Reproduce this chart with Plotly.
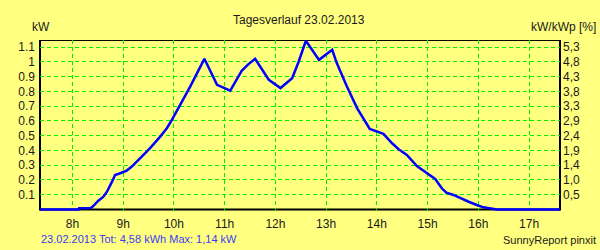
import plotly.graph_objects as go

# ---- data ----
hours = [7.36, 8.12, 8.13, 8.36, 8.41, 8.51, 8.61, 8.68, 8.78, 8.84, 8.94, 9.07, 9.17,
         9.34, 9.53, 9.73, 9.86, 9.96, 10.09, 10.22, 10.32, 10.60, 10.85, 11.11, 11.34,
         11.47, 11.60, 11.87, 12.10, 12.33, 12.46, 12.60, 12.86, 13.12, 13.21, 13.41,
         13.61, 13.86, 14.00, 14.13, 14.30, 14.43, 14.59, 14.79, 14.99, 15.15, 15.28,
         15.37, 15.51, 15.65, 15.81, 15.97, 16.10, 16.37, 17.61]
power_kw = [0.0, 0.0, 0.008, 0.01, 0.023, 0.059, 0.086, 0.12, 0.188, 0.233, 0.245, 0.263,
            0.29, 0.347, 0.415, 0.493, 0.55, 0.607, 0.686, 0.765, 0.832, 1.02, 0.844,
            0.805, 0.941, 0.984, 1.02, 0.878, 0.822, 0.889, 1.002, 1.142, 1.013, 1.081,
            0.991, 0.832, 0.686, 0.545, 0.527, 0.512, 0.448, 0.408, 0.369, 0.294, 0.245,
            0.206, 0.143, 0.113, 0.098, 0.075, 0.052, 0.03, 0.014, 0.0, 0.0]

x_tick_vals = [8, 9, 10, 11, 12, 13, 14, 15, 16, 17]
x_tick_text = ["8h", "9h", "10h", "11h", "12h", "13h", "14h", "15h", "16h", "17h"]
y_tick_vals = [0.1, 0.2, 0.3, 0.4, 0.5, 0.6, 0.7, 0.8, 0.9, 1.0, 1.1]
y_tick_text = ["0.1", "0.2", "0.3", "0.4", "0.5", "0.6", "0.7", "0.8", "0.9", "1", "1.1"]
y2_tick_text = ["0,5", "1,0", "1,4", "1,9", "2,4", "2,9", "3,3", "3,8", "4,3", "4,8", "5,3"]

title_text = "Tagesverlauf 23.02.2013"
left_unit = "kW"
right_unit = "kW/kWp [%]"
footer_left = "23.02.2013 Tot: 4,58 kWh Max: 1,14 kW"
footer_right = "SunnyReport pinxit"

# ---- layout geometry ----
W, H = 600, 250
ML, MR, MT, MB = 40, 40, 40, 39
X_RANGE = [7.36, 17.61]
Y_RANGE = [-0.0108, 1.1475]
BG = "#FFFF80"
GRID = "#00EE00"
FONT = "Liberation Sans, Arial, sans-serif"
TXT = "#1a1a1a"


def px_x(p):
    return (p - ML) / (W - ML - MR)


def px_y(p):
    return (H - MB - p) / (H - MT - MB)


fig = go.Figure()
fig.add_trace(go.Scatter(x=hours, y=power_kw, mode="lines",
                         line=dict(color="#0000FF", width=2.5),
                         hoverinfo="skip", showlegend=False))
fig.add_trace(go.Scatter(x=[None], y=[None], yaxis="y2", mode="lines",
                         hoverinfo="skip", showlegend=False))

fig.update_layout(
    width=W, height=H,
    margin=dict(l=ML, r=MR, t=MT, b=MB, pad=0),
    paper_bgcolor=BG, plot_bgcolor=BG,
    font=dict(family=FONT, size=12, color=TXT),
    showlegend=False,
    xaxis=dict(range=X_RANGE, tickmode="array", tickvals=x_tick_vals, ticktext=x_tick_text,
               showgrid=True, gridcolor=GRID, griddash="4px,3px", gridwidth=1,
               zeroline=False, showline=False, ticks="", ticklabelstandoff=4,
               tickfont=dict(size=12, color=TXT)),
    yaxis=dict(range=Y_RANGE, tickmode="array", tickvals=y_tick_vals, ticktext=y_tick_text,
               showgrid=True, gridcolor=GRID, griddash="4px,3px", gridwidth=1,
               zeroline=False, showline=False, ticks="", ticklabelstandoff=4,
               tickfont=dict(size=12, color=TXT)),
    yaxis2=dict(range=Y_RANGE, overlaying="y", side="right", tickmode="array",
                tickvals=y_tick_vals, ticktext=y2_tick_text, showgrid=False,
                zeroline=False, showline=False, ticks="", ticklabelstandoff=2,
                tickfont=dict(size=12, color=TXT)),
    shapes=[dict(type="rect", xref="paper", x0=0, x1=1, yref="y", y0=0, y1=Y_RANGE[1],
                 line=dict(color="black", width=2), layer="between")],
    annotations=[
        dict(text=title_text, xref="paper", yref="paper", x=px_x(299), y=px_y(20),
             xanchor="center", yanchor="middle", showarrow=False,
             font=dict(size=12, color=TXT)),
        dict(text=left_unit, xref="paper", yref="paper", x=px_x(40.5), y=px_y(27),
             xanchor="center", yanchor="middle", showarrow=False,
             font=dict(size=12, color=TXT)),
        dict(text=right_unit, xref="paper", yref="paper", x=px_x(598), y=px_y(27),
             xanchor="right", yanchor="middle", showarrow=False,
             font=dict(size=12, color=TXT)),
        dict(text=footer_left, xref="paper", yref="paper", x=px_x(39), y=px_y(239),
             xanchor="left", yanchor="middle", showarrow=False,
             font=dict(size=11, color="#3c3cf0")),
        dict(text=footer_right, xref="paper", yref="paper", x=px_x(598), y=px_y(240),
             xanchor="right", yanchor="middle", showarrow=False,
             font=dict(size=11, color=TXT)),
    ],
)

fig.write_html("out.html")
